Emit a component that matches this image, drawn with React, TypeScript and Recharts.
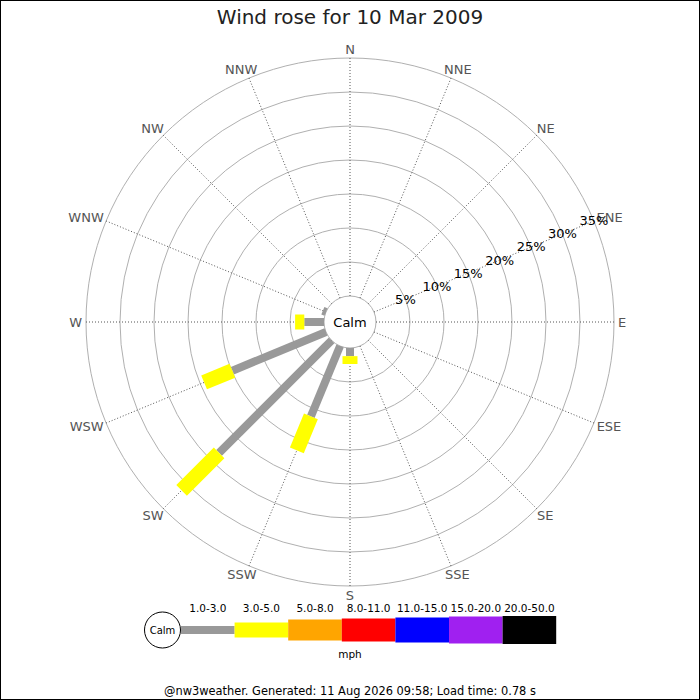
import React from 'react';
import { RadarChart, PolarGrid, PolarAngleAxis, PolarRadiusAxis, Radar, Legend } from 'recharts';

const directions = ['N', 'NNE', 'NE', 'ENE', 'E', 'ESE', 'SE', 'SSE', 'S', 'SSW', 'SW', 'WSW', 'W', 'WNW', 'NW', 'NNW'];

// % of readings from each direction, one array per speed band
const speed1to3 = [0, 0, 0, 0, 0, 0, 0, 0, 1.2, 11.2, 23.4, 14.9, 2.9, 0.5, 0, 0];
const speed3to5 = [0, 0, 0, 0, 0, 0, 0, 0, 1.15, 5.4, 7.8, 4.5, 1.35, 0, 0, 0];
const speed5to8 = [0, 0, 0, 0, 0, 0, 0, 0, 0, 0, 0, 0, 0, 0, 0, 0];
const speed8to11 = [0, 0, 0, 0, 0, 0, 0, 0, 0, 0, 0, 0, 0, 0, 0, 0];
const speed11to15 = [0, 0, 0, 0, 0, 0, 0, 0, 0, 0, 0, 0, 0, 0, 0, 0];
const speed15to20 = [0, 0, 0, 0, 0, 0, 0, 0, 0, 0, 0, 0, 0, 0, 0, 0];
const speed20to50 = [0, 0, 0, 0, 0, 0, 0, 0, 0, 0, 0, 0, 0, 0, 0, 0];

const bandLabels = ['1.0-3.0', '3.0-5.0', '5.0-8.0', '8.0-11.0', '11.0-15.0', '15.0-20.0', '20.0-50.0'];
const ringTicks = [0, 5, 10, 15, 20, 25, 30, 35];

const bands = [speed1to3, speed3to5, speed5to8, speed8to11, speed11to15, speed15to20, speed20to50];
const bandColors = ['#999999', '#ffff00', '#ffa500', '#ff0000', '#0000ff', '#a020f0', '#000000'];
const bandWidths = [8, 15, 21, 23, 25, 27, 28];

// stacked ranges [from, to] per band
const data = directions.map((dir, i) => {
  const row: any = { dir };
  let acc = 0;
  bands.forEach((b, k) => {
    row['b' + k] = [acc, acc + b[i]];
    acc += b[i];
  });
  return row;
});

const FONT = '"DejaVu Sans", Verdana, sans-serif';

// glyph advance widths of DejaVu Sans, em
const glyphW: Record<string, number> = { N: 0.748, E: 0.632, S: 0.635, W: 0.989 };
const labelWidth = (s: string, size: number) =>
  s.split('').reduce((w, c) => w + (glyphW[c] ?? 0.65), 0) * size;

const lastOf = (v: any) => (Array.isArray(v) ? v[v.length - 1] : v);
const firstOf = (v: any) => (Array.isArray(v) ? v[0] : v);

const barShape = (color: string, width: number) => (props: any) => {
  const points: any[] = props.points || [];
  let base: any[] = props.baseLinePoints || [];
  if (!base.length) {
    // derive base points from the same linear radius scale
    const zero = points.find((p) => lastOf(p.value) === 0);
    const other = points.find((p) => lastOf(p.value) > 0);
    const r0 = zero ? zero.radius : 0;
    const k = other ? (other.radius - r0) / lastOf(other.value) : 0;
    base = points.map((p) => {
      const r = r0 + k * firstOf(p.value);
      const a = (-p.angle * Math.PI) / 180;
      return { x: p.cx + Math.cos(a) * r, y: p.cy + Math.sin(a) * r, radius: r };
    });
  }
  return (
    <g>
      {points.map((p, i) => {
        const b = base[i];
        if (!b || Math.abs(p.radius - b.radius) < 0.01) return null;
        return <line key={i} x1={b.x} y1={b.y} x2={p.x} y2={p.y} stroke={color} strokeWidth={width} />;
      })}
    </g>
  );
};

const DirTick = (props: any) => {
  const { x, y, payload } = props;
  const label = String(payload.value);
  const phi = (payload.coordinate * Math.PI) / 180;
  const w = labelWidth(label, 13);
  return (
    <text
      x={x + (w / 2) * Math.cos(phi)}
      y={y - 5 * Math.sin(phi)}
      textAnchor="middle"
      dominantBaseline="central"
      fill="#555"
      fontSize={13}
      fontFamily={FONT}
    >
      {label}
    </text>
  );
};

const RingTick = (props: any) => {
  const { x, y, payload } = props;
  if (payload.value === 0) return <g />;
  return (
    <text x={x} y={y} textAnchor="middle" dominantBaseline="central" fill="#000" fontSize={13} fontFamily={FONT}>
      {payload.value}%
    </text>
  );
};

const SpeedLegend = () => {
  const step = 53.6;
  const x0 = 181;
  const mid = 40;
  return (
    <svg width={700} height={110} style={{ display: 'block' }}>
      <circle cx={162.5} cy={mid} r={18} fill="#fff" stroke="#000" />
      <text x={162.5} y={mid} textAnchor="middle" dominantBaseline="central" fontSize={10} fontFamily={FONT}>
        Calm
      </text>
      {bandLabels.map((lab, i) => (
        <g key={lab}>
          <rect x={x0 + i * step} y={mid - bandWidths[i] / 2} width={step} height={bandWidths[i]} fill={bandColors[i]} />
          <text x={x0 + i * step + step / 2} y={17.5} textAnchor="middle" dominantBaseline="central" fontSize={10.5} fontFamily={FONT}>
            {lab}
          </text>
        </g>
      ))}
      <text x={350} y={64} textAnchor="middle" dominantBaseline="central" fontSize={10.5} fontFamily={FONT}>
        mph
      </text>
    </svg>
  );
};

export default function App() {
  return (
    <div style={{ position: 'absolute', left: 0, top: 0, width: 700, height: 700, background: '#fff' }}>
      <RadarChart
        width={700}
        height={700}
        data={data}
        cx={350}
        cy={322}
        innerRadius={26}
        outerRadius={264}
        margin={{ top: 0, right: 0, bottom: 0, left: 0 }}
      >
        <PolarGrid gridType="circle" radialLines={false} stroke="#b0b0b0" />
        <PolarGrid gridType="circle" polarRadius={[]} stroke="#555" strokeDasharray="1 2" />
        <PolarAngleAxis dataKey="dir" axisLine={false} tickLine={false} tickSize={4} tick={DirTick} />
        <PolarRadiusAxis
          angle={22.5}
          type="number"
          domain={[0, 35]}
          allowDataOverflow
          ticks={ringTicks}
          tickCount={8}
          axisLine={false}
          tickLine={false}
          tick={RingTick}
        />
        {bandLabels.map((lab, k) => (
          <Radar
            key={lab}
            name={lab}
            dataKey={'b' + k}
            stroke={bandColors[k]}
            fill={bandColors[k]}
            shape={barShape(bandColors[k], bandWidths[k])}
            isAnimationActive={false}
          />
        ))}
        <Legend
          verticalAlign="bottom"
          content={<SpeedLegend />}
          wrapperStyle={{ position: 'absolute', left: 0, top: 590, width: 700, height: 110 }}
        />
      </RadarChart>
      <svg width={700} height={700} style={{ position: 'absolute', left: 0, top: 0, pointerEvents: 'none' }}>
        <text x={350} y={24} textAnchor="middle" fontSize={20} fill="#222" fontFamily={FONT}>
          Wind rose for 10 Mar 2009
        </text>
        <text x={350} y={322} textAnchor="middle" dominantBaseline="central" fontSize={13} fill="#000" fontFamily={FONT}>
          Calm
        </text>
        <text x={350} y={695} textAnchor="middle" fontSize={11.4} fill="#000" fontFamily={FONT}>
          @nw3weather. Generated: 11 Aug 2026 09:58; Load time: 0.78 s
        </text>
        <rect x={0.5} y={0.5} width={699} height={699} fill="none" stroke="#000" />
      </svg>
    </div>
  );
}
